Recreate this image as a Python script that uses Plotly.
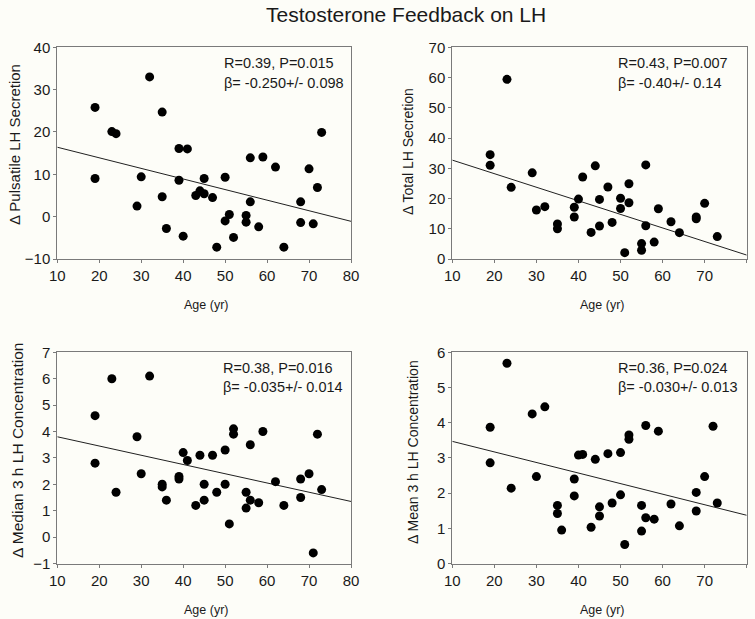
import plotly.graph_objects as go

# Panel A: pulsatile LH secretion
age_a = [19, 19, 23, 24, 29, 30, 32, 35, 35, 36, 39, 39, 40, 41, 43, 44, 45, 45, 47,
         48, 50, 50, 51, 52, 55, 55, 56, 56, 58, 59, 62, 64, 68, 68, 70, 71, 72, 73]
pulsatile = [25.8, 9.0, 20.1, 19.6, 2.5, 9.4, 33.0, 24.7, 4.7, -2.8, 16.1, 8.6, -4.6, 16.0, 5.0,
             6.1, 5.4, 9.0, 4.5, -7.2, 9.3, -1.0, 0.5, -4.9, 0.3, -1.3, 13.9, 3.5, -2.4, 14.1,
             11.7, -7.2, 3.5, -1.4, 11.3, -1.7, 6.9, 19.9]

# Panel B: total LH secretion
age_b = [19, 19, 23, 24, 29, 30, 32, 35, 35, 39, 39, 40, 41, 43, 44, 45, 45, 47, 48,
         50, 50, 51, 52, 52, 55, 55, 56, 56, 58, 59, 62, 64, 68, 68, 70, 73]
total = [34.5, 31.0, 59.4, 23.7, 28.5, 16.2, 17.3, 11.6, 10.0, 17.1, 13.9, 19.8, 27.1, 8.8,
         30.8, 19.7, 10.9, 23.8, 12.1, 20.1, 16.7, 2.1, 24.9, 18.6, 5.1, 2.9, 31.1, 11.0,
         5.6, 16.6, 12.3, 8.7, 13.3, 13.9, 18.4, 7.4]

# Panel C: median 3 h LH concentration
age_c = [19, 19, 23, 24, 29, 30, 32, 35, 35, 36, 39, 39, 40, 41, 43, 44, 45, 45, 47, 48,
         50, 50, 51, 52, 52, 55, 55, 56, 56, 58, 59, 62, 64, 68, 68, 70, 71, 72, 73]
median3h = [4.6, 2.8, 6.0, 1.7, 3.8, 2.4, 6.1, 2.0, 1.9, 1.4, 2.3, 2.2, 3.2, 2.9, 1.2, 3.1,
            2.0, 1.4, 3.1, 1.7, 3.3, 2.0, 0.5, 4.1, 3.9, 1.7, 1.1, 3.5, 1.4, 1.3, 4.0, 2.1,
            1.2, 2.2, 1.5, 2.4, -0.6, 3.9, 1.8]

# Panel D: mean 3 h LH concentration
age_d = [19, 19, 23, 24, 29, 30, 32, 35, 35, 36, 39, 39, 40, 41, 43, 44, 45, 45, 47, 48,
         50, 50, 51, 52, 52, 55, 55, 56, 56, 58, 59, 62, 64, 68, 68, 70, 72, 73]
mean3h = [3.87, 2.86, 5.69, 2.14, 4.25, 2.47, 4.45, 1.65, 1.42, 0.95, 2.40, 1.92, 3.08, 3.10,
          1.03, 2.96, 1.61, 1.35, 3.12, 1.72, 3.15, 1.95, 0.54, 3.65, 3.53, 1.65, 0.92, 3.92,
          1.30, 1.26, 3.76, 1.69, 1.07, 2.02, 1.49, 2.47, 3.90, 1.72]

# regression lines (end points)
fit_x = [10, 80]
fit_a = [16.4, -1.1]
fit_b = [32.7, 1.3]
fit_c = [3.80, 1.35]
fit_d = [3.47, 1.37]

stats = [("R=0.39, P=0.015", "β= -0.250+/- 0.098"),
         ("R=0.43, P=0.007", "β= -0.40+/- 0.14"),
         ("R=0.38, P=0.016", "β= -0.035+/- 0.014"),
         ("R=0.36, P=0.024", "β= -0.030+/- 0.013")]
ylabels = ["Δ Pulsatile LH Secretion", "Δ Total LH Secretion",
           "Δ Median 3 h LH Concentration", "Δ Mean 3 h LH Concentration"]

W, H = 755, 619
FONT = "Liberation Sans, Arial, sans-serif"
TXT = "#1a1a1a"
AX = "#7a7a7a"
BG = "#fdfdf8"

panels = [(age_a, pulsatile, fit_a), (age_b, total, fit_b),
          (age_c, median3h, fit_c), (age_d, mean3h, fit_d)]

fig = go.Figure()
for i, (xs, ys, fy) in enumerate(panels):
    xa = "x" if i == 0 else f"x{i+1}"
    ya = "y" if i == 0 else f"y{i+1}"
    fig.add_trace(go.Scatter(x=fit_x, y=fy, mode="lines", xaxis=xa, yaxis=ya,
                             line=dict(color="#202020", width=1), showlegend=False))
    fig.add_trace(go.Scatter(x=xs, y=ys, mode="markers", xaxis=xa, yaxis=ya,
                             marker=dict(color="black", size=9), showlegend=False))

# plot boxes in pixels: (left, right, top, bottom)
boxes = [(57.3, 351, 47.3, 259), (452.3, 746.7, 47.3, 259),
         (57.3, 351, 352.3, 563.5), (452.3, 746.7, 352.3, 563.5)]
yranges = [[-10, 40], [0, 70], [-1, 7], [0, 6]]
ydticks = [10, 10, 1, 1]

axis_common = dict(showline=True, linecolor=AX, linewidth=1, mirror=True, automargin=False,
                   ticks="outside", ticklen=3, tickcolor=AX, showgrid=False, zeroline=False,
                   tickfont=dict(family=FONT, size=15, color=TXT))

layout = {}
for i, (l, r, t, b) in enumerate(boxes):
    xk = "xaxis" if i == 0 else f"xaxis{i+1}"
    yk = "yaxis" if i == 0 else f"yaxis{i+1}"
    ya = "y" if i == 0 else f"y{i+1}"
    xa = "x" if i == 0 else f"x{i+1}"
    layout[xk] = dict(domain=[l / W, r / W], range=[10, 80], dtick=10, anchor=ya, **axis_common)
    layout[yk] = dict(domain=[1 - b / H, 1 - t / H], range=yranges[i], dtick=ydticks[i],
                      anchor=xa, **axis_common)
fig.update_layout(**layout)

ann = []
# stats text
stat_pos = [(222.7, 63, 83), (616.7, 63, 83), (221.7, 368, 387), (617.3, 368, 387)]
for (x, y1, y2), (s1, s2) in zip(stat_pos, stats):
    for y, s in ((y1, s1), (y2, s2)):
        ann.append(dict(x=x / W, y=1 - y / H, xref="paper", yref="paper", text=s,
                        showarrow=False, xanchor="left", yanchor="middle", borderpad=0,
                        font=dict(family=FONT, size=14.5, color=TXT)))
# y-axis titles
ytitle_pos = [(15, 145, 15), (408, 152, 14), (17, 451, 15.5), (413, 452, 14)]
for (x, y, fs), s in zip(ytitle_pos, ylabels):
    ann.append(dict(x=x / W, y=1 - y / H, xref="paper", yref="paper", text=s,
                    textangle=-90, showarrow=False, xanchor="center", yanchor="middle",
                    font=dict(family=FONT, size=fs, color=TXT)))
# x-axis titles
for x, y in [(206, 305), (602, 305), (206, 610), (602, 610)]:
    ann.append(dict(x=x / W, y=1 - y / H, xref="paper", yref="paper", text="Age (yr)",
                    showarrow=False, xanchor="center", yanchor="middle",
                    font=dict(family=FONT, size=12.5, color=TXT)))
# main title
ann.append(dict(x=406 / W, y=1 - 14 / H, xref="paper", yref="paper",
                text="Testosterone Feedback on LH", showarrow=False,
                xanchor="center", yanchor="middle",
                font=dict(family=FONT, size=21, color=TXT)))

fig.update_layout(annotations=ann, width=W, height=H, autosize=False,
                  margin=dict(l=0, r=0, t=0, b=0),
                  paper_bgcolor=BG, plot_bgcolor=BG)

# drop the default 8px page margin so the figure fills the window
fig.write_html("out.html", config={"displayModeBar": False},
               post_script=f"document.body.style.margin='0';document.body.style.background='{BG}';")
